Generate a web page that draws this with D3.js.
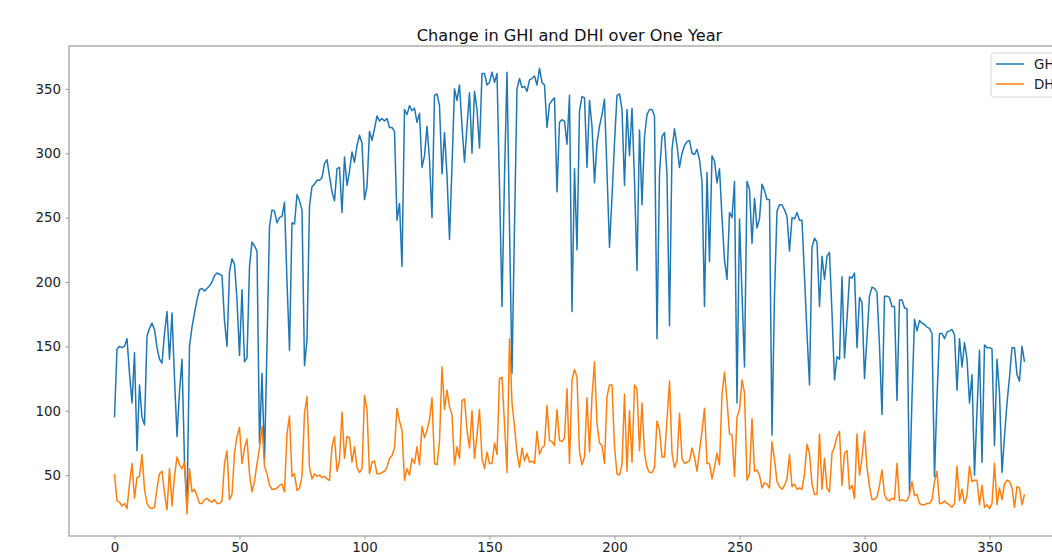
<!DOCTYPE html>
<html>
<head>
<meta charset="utf-8">
<script src="https://cdn.jsdelivr.net/npm/d3@7"></script>
<style>
  html, body { margin: 0; padding: 0; background: #fff; overflow: hidden; }
  svg { display: block; font-family: "DejaVu Sans", sans-serif; }
  .axis path { stroke: #999; }
  .axis line { stroke: #999; }
  .axis text { fill: #222; }
</style>
</head>
<body>
<div id="svg-container"></div>
<script>
// chart title and series names
var chartTitle = "Change in GHI and DHI over One Year";
var seriesNames = ["GHI", "DHI"];

// tick values for both axes
var xTicks = [0, 50, 100, 150, 200, 250, 300, 350];
var yTicks = [50, 100, 150, 200, 250, 300, 350];

// daily GHI, day 0 .. 364
var ghi = [
  95,148,150,149,150,156,129,106,145,69,
  120,95,89,158,164,168,163,149,140,137,
  160,177,140,176,125,80,115,140,60,25,
  150,165,176,186,194,195,193,195,197,200,
  205,207,206,205,170,150,208,218,214,186,
  143,194,138,141,212,231,228,224,75,129,
  62,150,243,256,255,246,250,251,262,200,
  147,246,245,268,263,256,135,155,259,274,
  276,279,279,281,292,295,282,270,263,288,
  289,254,297,275,286,301,293,306,314,308,
  264,274,317,310,319,329,325,327,325,327,
  320,320,317,248,261,212,334,330,337,333,
  335,324,331,289,298,321,295,250,345,346,
  337,284,316,283,233,290,350,341,353,321,
  293,321,347,300,348,334,304,362,362,353,
  355,363,355,362,275,181,282,363,243,129,
  243,350,358,351,352,348,357,358,360,353,
  366,355,353,320,338,341,343,270,324,326,
  325,307,345,177,288,225,333,344,343,289,
  341,321,277,308,321,330,342,285,227,266,
  308,345,346,334,275,334,298,335,279,209,
  318,260,313,330,334,334,329,156,284,313,
  316,283,166,303,319,306,289,300,306,309,
  310,300,299,303,295,278,181,285,216,298,
  294,277,288,250,217,202,254,250,278,106,
  249,191,134,278,272,230,265,242,249,276,
  271,264,264,81,190,255,260,260,256,251,
  224,250,249,254,248,248,204,160,120,227,
  234,231,181,220,202,220,223,176,124,142,
  140,204,141,171,204,203,207,149,188,184,
  125,157,189,196,195,192,150,97,189,189,
  188,181,181,108,186,186,180,179,36,110,
  171,162,170,168,167,165,164,160,49,110,
  160,160,156,161,162,163,159,116,156,134,
  153,140,106,128,50,100,147,60,151,149,
  149,148,73,140,114,52,80,106,126,149,
  149,128,123,150,138
];

// daily DHI, day 0 .. 364
var dhi = [
  51,30,29,26,28,24,43,59,32,48,
  49,66,39,28,25,24,25,40,51,53,
  36,23,55,26,49,64,58,55,60,20,
  55,37,39,34,28,28,31,32,30,29,
  31,28,28,30,59,69,31,35,67,80,
  87,59,71,78,51,37,45,59,71,88,
  57,51,42,39,39,40,42,43,37,82,
  96,49,51,38,40,49,98,111,56,47,
  51,49,50,48,49,47,46,72,80,53,
  61,99,63,80,79,60,72,56,52,55,
  112,101,51,60,61,51,51,52,53,56,
  63,65,71,102,92,85,46,55,50,63,
  59,72,58,88,79,85,93,110,59,58,
  76,134,101,116,103,97,58,72,63,108,
  109,85,71,100,63,81,101,63,55,68,
  59,59,75,66,125,126,90,52,156,106,
  88,67,56,71,61,67,60,61,59,84,
  66,71,73,104,77,76,73,101,77,76,
  79,117,59,124,132,126,68,58,64,110,
  68,111,138,90,75,73,59,111,120,120,
  72,51,50,58,113,53,100,60,120,117,
  69,106,67,56,52,52,56,92,85,64,
  64,93,123,67,56,61,98,63,59,60,
  61,71,64,53,69,84,102,59,59,47,
  56,67,58,113,130,108,82,81,49,95,
  101,124,114,46,51,94,53,54,50,40,
  44,43,40,76,62,45,41,39,42,47,
  66,41,43,39,40,39,51,74,67,43,
  35,35,82,39,63,40,37,67,72,80,
  84,42,67,69,39,42,32,82,50,63,
  84,56,41,31,31,33,42,54,35,31,
  30,32,31,59,30,31,30,30,35,45,
  34,35,28,27,27,28,28,31,45,53,
  28,28,30,28,27,25,28,57,30,39,
  28,34,57,45,46,46,27,42,25,27,
  24,28,59,27,40,31,43,46,45,40,
  25,41,40,27,35
];

// day index for each value
var days = d3.range(ghi.length);

var seriesColors = ["#1f77b4", "#ff7f0e"];
var seriesValues = [ghi, dhi];

// svg dimensions: the axes box runs past the right edge, as in the picture
var svgWidth = 1052;
var svgHeight = 558;
var plot = { left : 69, top : 46, right : 1070, bottom : 536 };

// data extent padded by 5% like matplotlib
var xMin = d3.min(days), xMax = d3.max(days);
var xPad = (xMax - xMin) * 0.05;
var yMin = d3.min(dhi.concat(ghi)), yMax = d3.max(dhi.concat(ghi));
var yPad = (yMax - yMin) * 0.05;

var x = d3.scaleLinear()
          .domain([xMin - xPad, xMax + xPad])
          .range([plot.left, plot.right]);

var y = d3.scaleLinear()
          .domain([yMin - yPad, yMax + yPad])
          .range([plot.bottom, plot.top]);

var svg = d3.select("#svg-container").append("svg")
    .attr("width", svgWidth)
    .attr("height", svgHeight);

// series lines
var line = d3.line()
    .x(function(d, i) { return x(days[i]); })
    .y(function(d) { return y(d); });

seriesValues.forEach(function(values, k) {
  svg.append("path")
    .datum(values)
    .attr("fill", "none")
    .attr("stroke", seriesColors[k])
    .attr("stroke-width", 1.5)
    .attr("stroke-linejoin", "round")
    .attr("d", line);
});

// frame
svg.append("rect")
    .attr("x", plot.left)
    .attr("y", plot.top)
    .attr("width", plot.right - plot.left)
    .attr("height", plot.bottom - plot.top)
    .attr("fill", "none")
    .attr("stroke", "#999")
    .attr("stroke-width", 1.2);

// x-axis
svg.append("g")
    .attr("class", "x axis")
    .attr("transform", "translate(0," + plot.bottom + ")")
    .call(d3.axisBottom(x).tickValues(xTicks).tickSize(3.5).tickPadding(3))
    .call(function(g) { g.select(".domain").remove(); });

// y-axis
svg.append("g")
    .attr("class", "y axis")
    .attr("transform", "translate(" + plot.left + ",0)")
    .call(d3.axisLeft(y).tickValues(yTicks).tickSize(3.5).tickPadding(4.5))
    .call(function(g) { g.select(".domain").remove(); });

svg.selectAll(".axis text").style("font-size", "13.4px").style("font-family", "DejaVu Sans");

// title
svg.append("text")
    .attr("x", (plot.left + plot.right) / 2)
    .attr("y", 41)
    .attr("text-anchor", "middle")
    .attr("fill", "#111")
    .style("font-size", "16.2px")
    .text(chartTitle);

// legend in the upper right corner
var legend = svg.append("g")
    .attr("transform", "translate(991,53)");

legend.append("rect")
    .attr("width", 76)
    .attr("height", 44)
    .attr("rx", 3)
    .attr("fill", "#fff")
    .attr("fill-opacity", 0.8)
    .attr("stroke", "#d6d6d6");

seriesNames.forEach(function(name, k) {
  var row = legend.append("g")
      .attr("transform", "translate(0," + (11 + k * 20) + ")");
  row.append("line")
      .attr("x1", 5)
      .attr("x2", 33)
      .attr("stroke", seriesColors[k])
      .attr("stroke-width", 1.5);
  row.append("text")
      .attr("x", 43)
      .attr("dy", "0.35em")
      .attr("fill", "#222")
      .style("font-size", "13.4px")
      .text(name);
});
</script>
</body>
</html>
